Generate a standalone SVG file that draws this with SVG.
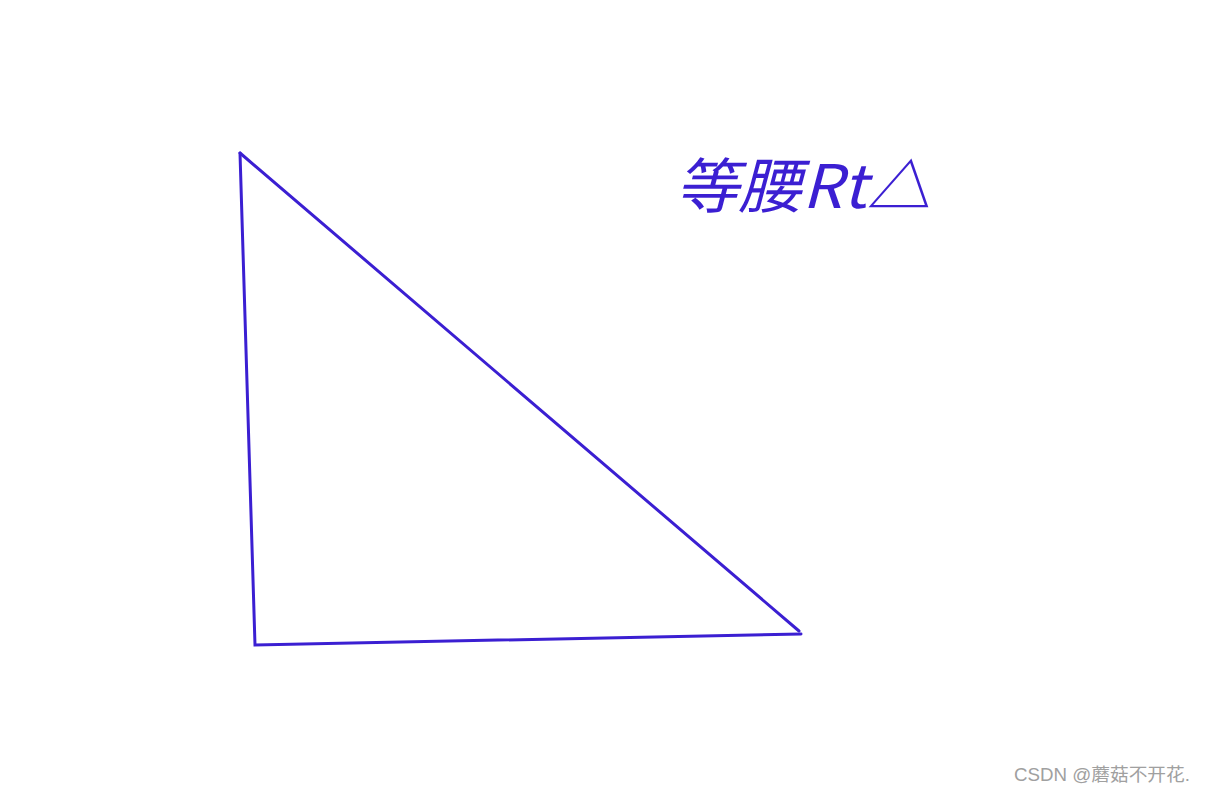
<svg xmlns="http://www.w3.org/2000/svg" width="1206" height="792" viewBox="0 0 1206 792">
<style>
.edge{fill:none;stroke:#3b1fd2;stroke-width:3;stroke-linejoin:miter;stroke-linecap:round}
.hand{font-family:"Noto Sans CJK SC","Noto Sans",sans-serif;fill:#3b1fd2;font-style:italic}
.wm{font-family:"Liberation Sans","Noto Sans CJK SC",sans-serif;fill:#a0a0a0;font-size:18px}
</style>
<rect width="1206" height="792" fill="#ffffff"/>
<g id="triangle">
<path class="edge" d="M240,153 L255,645 L801,634"/>
<path class="edge" d="M240,153 L799,631"/>
</g>
<g id="label">
<text class="hand" x="675" y="208" font-size="60" textLength="255" lengthAdjust="spacingAndGlyphs">等腰Rt△</text>
</g>
<g id="watermark">
<text class="wm" x="1014" y="781" textLength="176" lengthAdjust="spacingAndGlyphs">CSDN @蘑菇不开花.</text>
</g>
</svg>
